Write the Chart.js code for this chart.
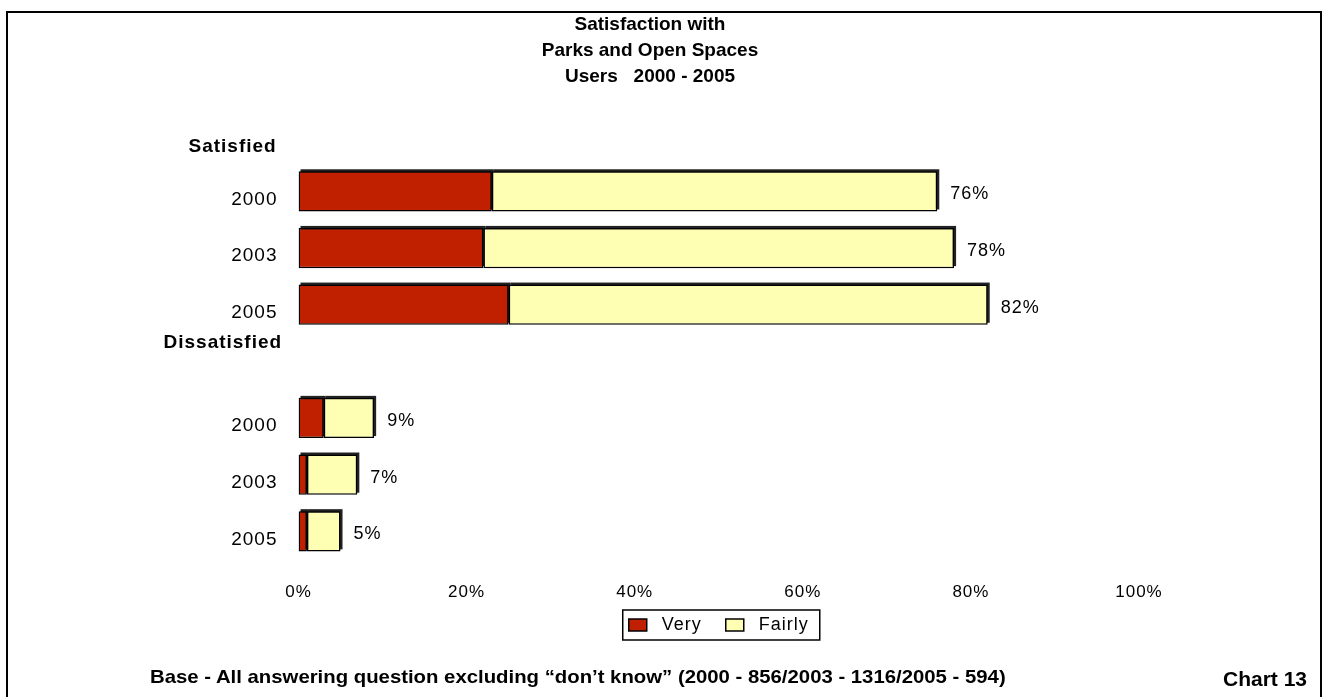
<!DOCTYPE html>
<html>
<head>
<meta charset="utf-8">
<script src="https://cdn.jsdelivr.net/npm/chart.js@4.4.0/dist/chart.umd.min.js"></script>
<style>
  html, body { margin: 0; padding: 0; background: #fff; }
  body { width: 1323px; height: 697px; position: relative; overflow: hidden; font-family: "Liberation Sans", Arial, sans-serif; }
  #frame { position: absolute; left: 6px; top: 11px; width: 1312px; height: 720px; border: 2px solid #000; }
  #chart { position: absolute; left: 0; top: 0; }
  #title { position: absolute; left: 450px; width: 400px; top: 11px; text-align: center; font-weight: bold; font-size: 19px; line-height: 26px; color: #000; }
  #footer { position: absolute; left: 150px; top: 666px; font-weight: bold; font-size: 19px; white-space: nowrap; transform-origin: 0 0; color: #000; }
  #chartNo { position: absolute; left: 1223px; top: 667px; font-weight: bold; font-size: 21px; color: #000; }
</style>
</head>
<body>
<div id="frame"></div>
<canvas id="chart" width="1323" height="697"></canvas>
<div id="title">Satisfaction with<br>Parks and Open Spaces<br>Users&nbsp;&nbsp; 2000 - 2005</div>
<div id="footer">Base - All answering question excluding “don’t know” (2000 - 856/2003 - 1316/2005 - 594)</div>
<div id="chartNo">Chart 13</div>
<script>
// dados
const categories = ['', '2000', '2003', '2005', '', '2000', '2003', '2005'];
const groupLabels = ['Satisfied', 'Dissatisfied'];
const veryValues = [null, 23, 22, 25, null, 3, 1, 1];
const fairlyValues = [null, 53, 56, 57, null, 6, 6, 4];
const totalValues = [null, 76, 78, 82, null, 9, 7, 5];
const xTickLabels = ['0%', '20%', '40%', '60%', '80%', '100%'];

const RED = '#C02000';
const YELLOW = '#FFFFB3';
const FONT = '"Liberation Sans", Arial, sans-serif';

// ajusta a largura do rodapé (fonte estreita)
const footer = document.getElementById('footer');
footer.style.transform = 'scaleX(' + (856 / footer.offsetWidth) + ')';

// espaçamento entre letras, como no original
const spacingPlugin = {
    id: 'spacing',
    beforeUpdate(chart) { chart.ctx.letterSpacing = '1px'; },
    beforeDraw(chart) { chart.ctx.letterSpacing = '1px'; },
    afterLayout(chart) {
        // sobe a legenda para junto do eixo
        chart.legend.top -= 34;
        chart.legend.bottom -= 34;
    }
};

// borda 3D das barras + rótulos de total
const barsPlugin = {
    id: 'bars',
    beforeDatasetsDraw(chart) {
        const ctx = chart.ctx;
        ctx.save();
        ctx.fillStyle = '#222';
        chart.data.datasets.forEach((ds, di) => {
            chart.getDatasetMeta(di).data.forEach(bar => {
                const p = bar.getProps(['x', 'y', 'base', 'height'], true);
                if (p.x == null || isNaN(p.x) || p.x === p.base) return;
                ctx.fillRect(p.base + 2, p.y - p.height / 2 - 2, p.x - p.base, p.height);
            });
        });
        ctx.restore();
    },
    afterDatasetsDraw(chart) {
        const ctx = chart.ctx;
        const meta = chart.getDatasetMeta(1);
        ctx.save();
        ctx.letterSpacing = '1px';
        ctx.font = '18px ' + FONT;
        ctx.fillStyle = '#000';
        ctx.textAlign = 'left';
        ctx.textBaseline = 'middle';
        meta.data.forEach((bar, i) => {
            if (totalValues[i] == null) return;
            ctx.fillText(totalValues[i] + '%', bar.x + 13, bar.y + 3);
        });

        // títulos dos grupos
        const y = chart.scales.y;
        const left = chart.chartArea.left;
        ctx.font = 'bold 19px ' + FONT;
        ctx.fillText(groupLabels[0], left - 110, y.getPixelForValue(1) - 45);
        ctx.fillText(groupLabels[1], left - 135, y.getPixelForValue(5) - 75);
        ctx.restore();
    },
    afterDraw(chart) {
        // moldura da legenda
        const boxes = chart.legend.legendHitBoxes;
        if (!boxes || !boxes.length) return;
        const first = boxes[0], last = boxes[boxes.length - 1];
        const cy = first.top + first.height / 2;
        const ctx = chart.ctx;
        ctx.save();
        ctx.strokeStyle = '#000';
        ctx.lineWidth = 1.5;
        ctx.strokeRect(first.left - 6, cy - 15, last.left + last.width + 11 - (first.left - 6), 30);
        ctx.restore();
    }
};

new Chart(document.getElementById('chart'), {
    type: 'bar',
    data: {
        labels: categories,
        datasets: [
            {
                label: 'Very',
                data: veryValues,
                backgroundColor: RED,
                borderColor: '#000',
                borderWidth: 1.5,
                borderSkipped: false
            },
            {
                label: 'Fairly',
                data: fairlyValues,
                backgroundColor: YELLOW,
                borderColor: '#000',
                borderWidth: 1.5,
                borderSkipped: false
            }
        ]
    },
    options: {
        indexAxis: 'y',
        responsive: false,
        animation: false,
        devicePixelRatio: 1,
        barPercentage: 0.71,
        categoryPercentage: 1,
        layout: {
            padding: { left: 198.5, right: 184, top: 106.4, bottom: 19 }
        },
        plugins: {
            title: { display: false },
            tooltip: { enabled: false },
            legend: {
                position: 'bottom',
                fullSize: false,
                labels: {
                    color: '#000',
                    font: { family: FONT, size: 18 },
                    boxWidth: 18,
                    boxHeight: 12,
                    padding: 24,
                    generateLabels: (chart) => Chart.defaults.plugins.legend.labels.generateLabels(chart)
                        .map(item => Object.assign(item, { text: ' ' + item.text }))
                }
            }
        },
        scales: {
            x: {
                stacked: true,
                min: 0,
                max: 100,
                grid: { display: false, drawTicks: false },
                border: { display: false },
                ticks: {
                    stepSize: 20,
                    color: '#000',
                    font: { family: FONT, size: 17 },
                    padding: 23,
                    callback: (v, i) => xTickLabels[i]
                }
            },
            y: {
                stacked: true,
                grid: { display: false, drawTicks: false },
                border: { display: false },
                afterFit: (axis) => { axis.width = 100; },
                ticks: {
                    color: '#000',
                    font: { family: FONT, size: 19 },
                    padding: 21,
                    labelOffset: 8
                }
            }
        }
    },
    plugins: [spacingPlugin, barsPlugin]
});
</script>
</body>
</html>
